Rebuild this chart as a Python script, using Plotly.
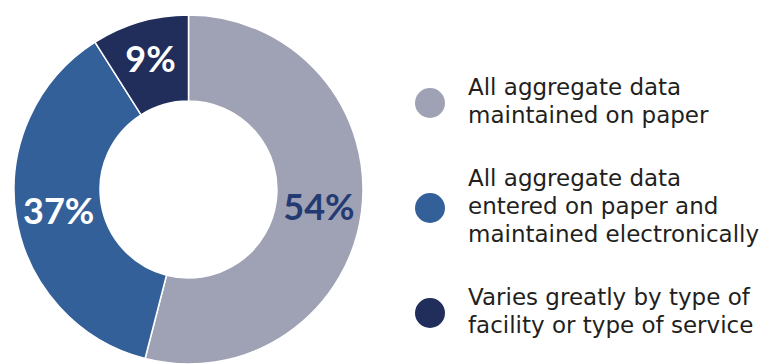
import plotly.graph_objects as go

labels = ["All aggregate data<br>maintained on paper",
          "All aggregate data<br>entered on paper and<br>maintained electronically",
          "Varies greatly by type of<br>facility or type of service"]
values = [54, 37, 9]
slice_colors = ["#9EA2B4", "#34609A", "#212D5A"]
text_colors = ["#243A73", "#FFFFFF", "#FFFFFF"]
pct_text = ["54%", "37%", "9%"]

W, H = 768, 364

fig = go.Figure()
fig.add_trace(go.Pie(
    labels=labels, values=values, text=pct_text, textinfo="text",
    sort=False, direction="clockwise", rotation=0, hole=0.507,
    marker=dict(colors=slice_colors, line=dict(color="white", width=1.5)),
    textposition="inside", insidetextorientation="horizontal",
    textfont=dict(family="Lato", size=36, weight="bold", color=text_colors),
    domain=dict(x=[12 / W, 365 / W], y=[0, 1 - 15 / H]),
    showlegend=False, hoverinfo="skip",
))

# custom legend with circle swatches
leg_y = [103, 208, 313]
cx, r, tx = 430, 15, 466
line_pitch = 28
shapes, annotations = [], []
for lab, col, yy in zip(labels, slice_colors, leg_y):
    shapes.append(dict(type="circle", xref="paper", yref="paper",
                       xsizemode="pixel", ysizemode="pixel",
                       xanchor=cx / W, yanchor=1 - yy / H,
                       x0=-r, x1=r, y0=-r, y1=r,
                       fillcolor=col, line=dict(width=0)))
    lines = lab.split("<br>")
    n = len(lines)
    for i, ln in enumerate(lines):
        ly = yy + (i - (n - 1) / 2) * line_pitch - 2
        annotations.append(dict(text=ln, xref="paper", yref="paper",
                                x=tx / W, y=1 - ly / H, xanchor="left", yanchor="middle",
                                align="left", showarrow=False,
                                font=dict(family="DejaVu Sans", size=23, color="#231F20")))

fig.update_layout(
    width=W, height=H, margin=dict(l=0, r=0, t=0, b=0),
    paper_bgcolor="white", plot_bgcolor="white",
    uniformtext=dict(minsize=36, mode="show"),
    shapes=shapes, annotations=annotations,
)
fig.write_html("out.html")
